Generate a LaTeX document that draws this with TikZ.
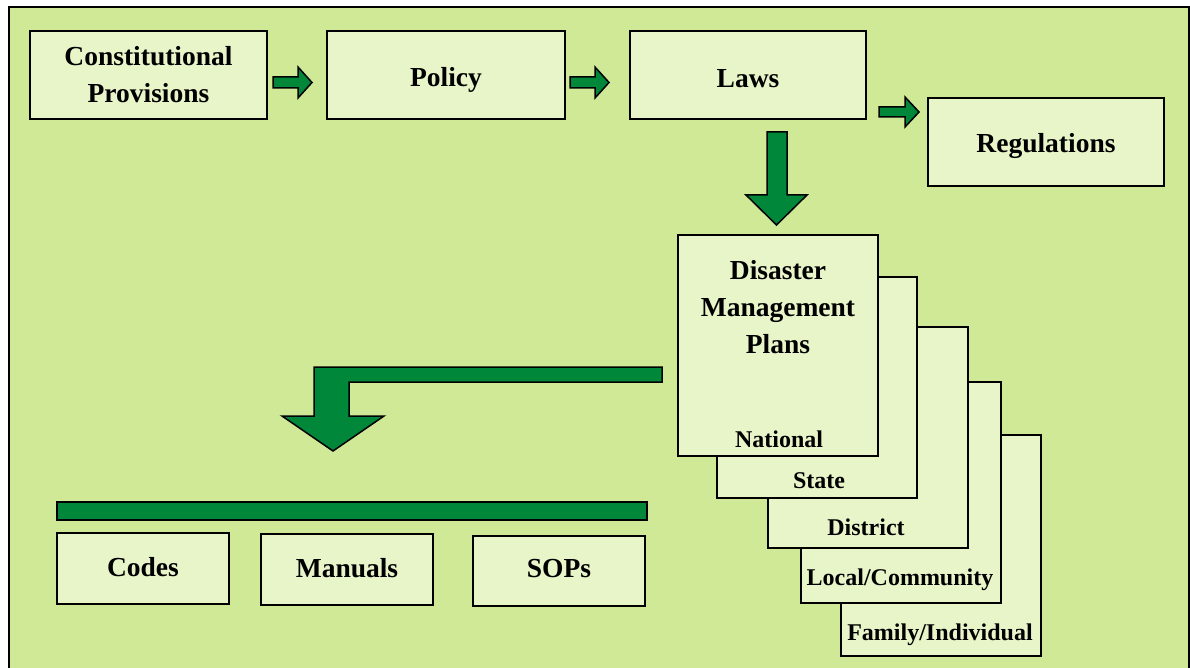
\documentclass[tikz,border=0pt]{standalone}
\usepackage{fontspec}
\setmainfont{Liberation Serif}
\definecolor{bgc}{HTML}{CFE997}
\definecolor{boxc}{HTML}{E8F5C9}
\definecolor{arrc}{HTML}{00873A}
\tikzset{
  box/.style={draw=black, fill=boxc, line width=2pt, inner sep=0pt, align=center,
    text depth=0pt, font=\fontsize{27.5}{37}\selectfont\bfseries},
  plan/.style={draw=black, fill=boxc, line width=2pt, inner sep=0pt,
    minimum width=200pt, minimum height=221pt},
  plabel/.style={anchor=base, inner sep=0pt, font=\fontsize{24}{30}\selectfont\bfseries},
  blockarrow/.style={draw=black, fill=arrc, line width=1.5pt, line join=miter},
}
\begin{document}
\begin{tikzpicture}[x=1pt, y=-1pt]
\useasboundingbox (0,0) rectangle (1190,668);
\fill[white] (0,0) rectangle (1190,668);
\draw[fill=bgc, line width=2.5pt] (9,7) rectangle (1189.5,675);

% top row
\node[box, text height=56pt, minimum width=237pt, minimum height=88pt] (cons) at (148.5,75) {Constitutional\\Provisions};
\node[box, text height=24pt, minimum width=238pt, minimum height=88pt] (pol) at (446,75) {Policy};
\node[box, text height=25pt, minimum width=236pt, minimum height=88pt] (laws) at (748,75) {Laws};
\node[box, text height=22pt, minimum width=236pt, minimum height=88pt] (reg) at (1046,142) {Regulations};

% small arrows
\draw[blockarrow] (273,77) -- (298,77) -- (298,67) -- (312,82.5) -- (298,98) -- (298,88) -- (273,88) -- cycle;
\draw[blockarrow] (570,77) -- (595,77) -- (595,67) -- (609,82.5) -- (595,98) -- (595,88) -- (570,88) -- cycle;
\draw[blockarrow] (879,107) -- (905,107) -- (905,97) -- (919,112) -- (905,127) -- (905,117) -- (879,117) -- cycle;

% down arrow
\draw[blockarrow] (767,132) -- (787,132) -- (787,195) -- (807,195) -- (776.5,225) -- (746,195) -- (767,195) -- cycle;

% plan stack
\node[plan] (fam) at (941,545) {};
\node[plan] (loc) at (901,492) {};
\node[plan] (dis) at (868,437) {};
\node[plan] (sta) at (817,387.5) {};
\node[plan] (nat) at (778,345.5) {};
\node[anchor=base, align=center, inner sep=0pt, font=\fontsize{27.5}{37}\selectfont\bfseries] (dmp) at (778,353) {Disaster\\Management\\Plans};
\node[plabel] (natl) at (779,447) {National};
\node[plabel] (stal) at (819,488) {State};
\node[plabel] (disl) at (866,535) {District};
\node[plabel] (locl) at (900,585) {Local/Community};
\node[plabel] (faml) at (940,640) {Family/Individual};

% bent arrow
\draw[blockarrow] (662,367) -- (314,367) -- (314,416) -- (282,416) -- (333,451) -- (384,416) -- (349,416) -- (349,382) -- (662,382) -- cycle;

% bar
\draw[draw=black, fill=arrc, line width=2pt] (57,502) rectangle (647,520);

% bottom boxes
\node[box, text height=15pt, minimum width=172pt, minimum height=71pt] (codes) at (143,568.5) {Codes};
\node[box, text height=15pt, minimum width=172pt, minimum height=71pt] (man) at (347,569.5) {Manuals};
\node[box, text height=12pt, minimum width=172pt, minimum height=70pt] (sops) at (559,571) {SOPs};
\end{tikzpicture}
\end{document}
